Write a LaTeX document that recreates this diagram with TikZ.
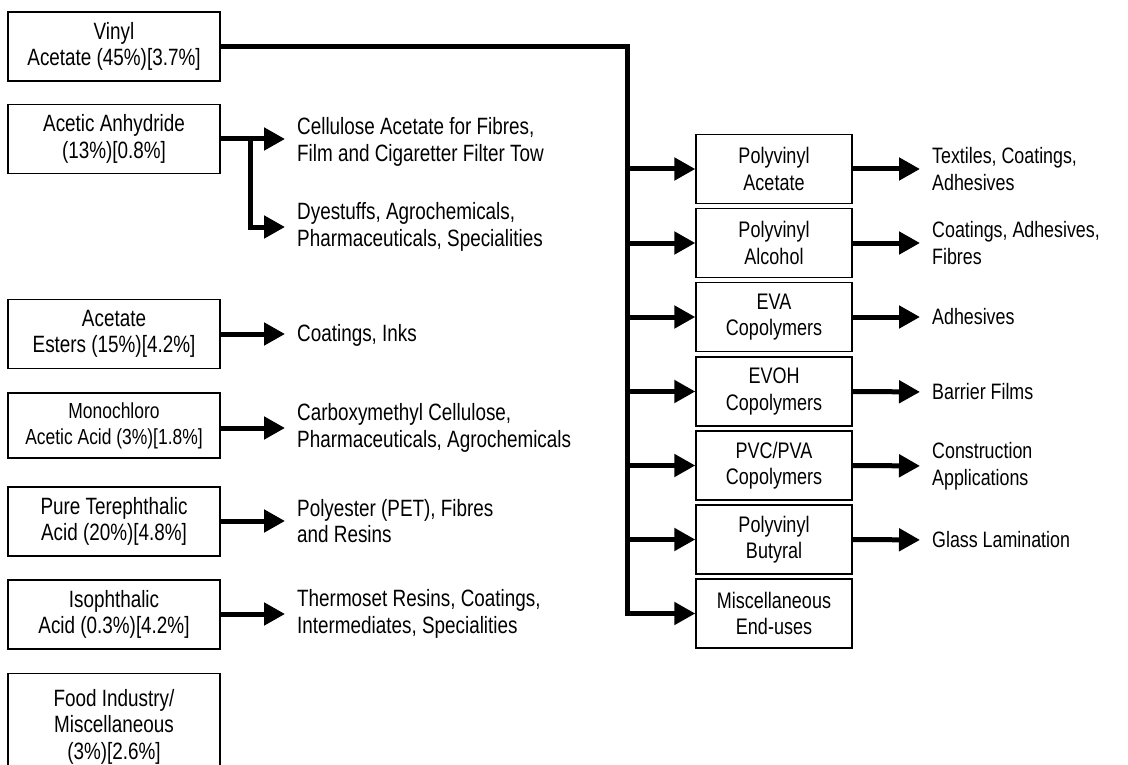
\documentclass[tikz,border=0pt]{standalone}
\usepackage{fontspec}
\setmainfont{Liberation Sans}[FakeStretch=0.8]
\usetikzlibrary{arrows.meta}

\begin{document}
\begin{tikzpicture}[x=1pt,y=-1pt,
  every node/.style={font=\fontsize{23.6}{26.5}\selectfont},
  box/.style={draw,line width=1.4pt,inner sep=0pt,align=center,minimum height=69pt},
  lbox/.style={box,minimum width=212pt},
  rbox/.style={box,minimum width=156pt,font=\fontsize{22.5}{26.5}\selectfont},
  use/.style={anchor=west,align=left,inner sep=0pt},
  ruse/.style={use,font=\fontsize{22.3}{26.5}\selectfont},
  flow/.style={line width=5pt,-{Triangle[length=21pt,width=22pt]}}]

  \useasboundingbox (0,0) rectangle (1128,765);

  % feedstocks
  \node[lbox] (vinyl) at (114,46.5) {Vinyl\\Acetate (45\%)[3.7\%]};
  \node[lbox] (anhyd) at (114,139) {Acetic Anhydride\\(13\%)[0.8\%]};
  \node[lbox] (esters) at (114,334) {Acetate\\Esters (15\%)[4.2\%]};
  \node[lbox,minimum height=65pt,font=\fontsize{21.8}{26}\selectfont] (mca) at (114,425.5) {Monochloro\\Acetic Acid (3\%)[1.8\%]};
  \node[lbox] (pta) at (114,521.5) {Pure Terephthalic\\Acid (20\%)[4.8\%]};
  \node[lbox] (ipa) at (114,614.5) {Isophthalic\\Acid (0.3\%)[4.2\%]};
  \node[lbox,minimum height=106pt,anchor=north] (food) at (114,673) {Food Industry/\\Miscellaneous\\(3\%)[2.6\%]};

  % end uses, left
  \node[use] (cell) at (297,142) {Cellulose Acetate for Fibres,\\Film and Cigaretter Filter Tow};
  \node[use] (dye) at (297,227) {Dyestuffs, Agrochemicals,\\Pharmaceuticals, Specialities};
  \node[use] (inks) at (297,335) {Coatings, Inks};
  \node[use] (cmc) at (297,428) {Carboxymethyl Cellulose,\\Pharmaceuticals, Agrochemicals};
  \node[use] (pet) at (297,521) {Polyester (PET), Fibres\\and Resins};
  \node[use] (thermo) at (297,614) {Thermoset Resins, Coatings,\\Intermediates, Specialities};

  % vinyl acetate derivatives
  \node[rbox] (pvac) at (774,169) {Polyvinyl\\Acetate};
  \node[rbox] (pvoh) at (774,243) {Polyvinyl\\Alcohol};
  \node[rbox] (eva) at (774,317) {EVA\\Copolymers};
  \node[rbox] (evoh) at (774,391.5) {EVOH\\Copolymers};
  \node[rbox] (pvcpva) at (774,465.5) {PVC/PVA\\Copolymers};
  \node[rbox] (pvb) at (774,539.5) {Polyvinyl\\Butyral};
  \node[rbox] (miscuse) at (774,613.5) {Miscellaneous\\End-uses};

  % end uses, right
  \node[ruse] (textiles) at (932,169) {Textiles, Coatings,\\Adhesives};
  \node[ruse] (fibres) at (932,243) {Coatings, Adhesives,\\Fibres};
  \node[ruse] (adh) at (932,317) {Adhesives};
  \node[ruse] (barrier) at (932,392) {Barrier Films};
  \node[ruse] (constr) at (932,466) {Construction\\Applications};
  \node[ruse] (glass) at (932,540) {Glass Lamination};

  \coordinate (asplit) at (250,139);
  \coordinate (bus) at (627,0);

  \draw[flow,shorten >=12pt] (anhyd.east) -- (asplit) -- (asplit -| cell.west);
  \draw[flow,shorten >=12pt] (asplit) |- (dye.west);
  \draw[flow,shorten >=12pt] (esters.east) -- (esters.east -| inks.west);
  \draw[flow,shorten >=12pt] (mca.east |- cmc.west) -- (cmc.west);
  \draw[flow,shorten >=12pt] (pta.east |- pet.west) -- (pet.west);
  \draw[flow,shorten >=12pt] (ipa.east |- thermo.west) -- (thermo.west);

  \draw[flow] (vinyl.east) -| (bus |- miscuse.west) -- (miscuse.west);
  \foreach \n in {pvac,pvoh,eva,evoh,pvcpva,pvb}
    \draw[flow] (bus |- \n.west) -- (\n.west);

  \draw[flow,shorten >=12pt] (pvac.east) -- (textiles.west);
  \draw[flow,shorten >=12pt] (pvoh.east) -- (fibres.west);
  \draw[flow,shorten >=12pt] (eva.east) -- (adh.west);
  \draw[flow,shorten >=12pt] (evoh.east) -- (barrier.west);
  \draw[flow,shorten >=12pt] (pvcpva.east) -- (constr.west);
  \draw[flow,shorten >=12pt] (pvb.east) -- (glass.west);
\end{tikzpicture}
\end{document}
